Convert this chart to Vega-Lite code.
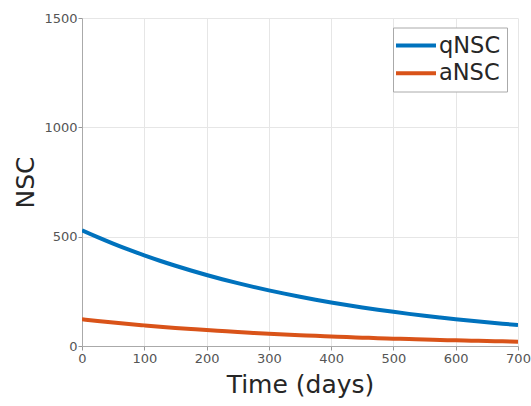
{
  "$schema": "https://vega.github.io/schema/vega-lite/v6.json",
  "autosize": "none",
  "width": 436,
  "height": 328,
  "padding": {"left": 82, "top": 18, "right": 13, "bottom": 60},
  "background": "white",
  "config": {
    "font": "DejaVu Sans",
    "view": {"stroke": null}
  },
  "data": {
    "values": [
      {"t": 0, "v": 529, "s": "qNSC"}, {"t": 25, "v": 497.7, "s": "qNSC"}, {"t": 50, "v": 468.2, "s": "qNSC"}, {"t": 75, "v": 440.5, "s": "qNSC"},
      {"t": 100, "v": 414.5, "s": "qNSC"}, {"t": 125, "v": 389.9, "s": "qNSC"}, {"t": 150, "v": 366.9, "s": "qNSC"}, {"t": 175, "v": 345.2, "s": "qNSC"},
      {"t": 200, "v": 324.8, "s": "qNSC"}, {"t": 225, "v": 305.5, "s": "qNSC"}, {"t": 250, "v": 287.4, "s": "qNSC"}, {"t": 275, "v": 270.4, "s": "qNSC"},
      {"t": 300, "v": 254.4, "s": "qNSC"}, {"t": 325, "v": 239.4, "s": "qNSC"}, {"t": 350, "v": 225.2, "s": "qNSC"}, {"t": 375, "v": 211.9, "s": "qNSC"},
      {"t": 400, "v": 199.3, "s": "qNSC"}, {"t": 425, "v": 187.5, "s": "qNSC"}, {"t": 450, "v": 176.4, "s": "qNSC"}, {"t": 475, "v": 166.0, "s": "qNSC"},
      {"t": 500, "v": 156.2, "s": "qNSC"}, {"t": 525, "v": 146.9, "s": "qNSC"}, {"t": 550, "v": 138.2, "s": "qNSC"}, {"t": 575, "v": 130.1, "s": "qNSC"},
      {"t": 600, "v": 122.4, "s": "qNSC"}, {"t": 625, "v": 115.1, "s": "qNSC"}, {"t": 650, "v": 108.3, "s": "qNSC"}, {"t": 675, "v": 101.9, "s": "qNSC"},
      {"t": 700, "v": 95.9, "s": "qNSC"},
      {"t": 0, "v": 122, "s": "aNSC"}, {"t": 25, "v": 114.4, "s": "aNSC"}, {"t": 50, "v": 107.2, "s": "aNSC"}, {"t": 75, "v": 100.5, "s": "aNSC"},
      {"t": 100, "v": 94.3, "s": "aNSC"}, {"t": 125, "v": 88.4, "s": "aNSC"}, {"t": 150, "v": 82.8, "s": "aNSC"}, {"t": 175, "v": 77.7, "s": "aNSC"},
      {"t": 200, "v": 72.8, "s": "aNSC"}, {"t": 225, "v": 68.3, "s": "aNSC"}, {"t": 250, "v": 64.0, "s": "aNSC"}, {"t": 275, "v": 60.0, "s": "aNSC"},
      {"t": 300, "v": 56.3, "s": "aNSC"}, {"t": 325, "v": 52.7, "s": "aNSC"}, {"t": 350, "v": 49.5, "s": "aNSC"}, {"t": 375, "v": 46.4, "s": "aNSC"},
      {"t": 400, "v": 43.5, "s": "aNSC"}, {"t": 425, "v": 40.7, "s": "aNSC"}, {"t": 450, "v": 38.2, "s": "aNSC"}, {"t": 475, "v": 35.8, "s": "aNSC"},
      {"t": 500, "v": 33.6, "s": "aNSC"}, {"t": 525, "v": 31.5, "s": "aNSC"}, {"t": 550, "v": 29.5, "s": "aNSC"}, {"t": 575, "v": 27.7, "s": "aNSC"},
      {"t": 600, "v": 25.9, "s": "aNSC"}, {"t": 625, "v": 24.3, "s": "aNSC"}, {"t": 650, "v": 22.8, "s": "aNSC"}, {"t": 675, "v": 21.4, "s": "aNSC"},
      {"t": 700, "v": 20.0, "s": "aNSC"}
    ]
  },
  "mark": {"type": "line", "strokeWidth": 4, "interpolate": "monotone", "clip": true},
  "encoding": {
    "x": {
      "field": "t", "type": "quantitative",
      "scale": {"domain": [0, 700], "nice": false, "zero": false},
      "axis": {
        "title": "Time (days)",
        "values": [0, 100, 200, 300, 400, 500, 600, 700],
        "format": "d",
        "titleFontSize": 25, "titleFontWeight": "normal", "titleColor": "#262626",
        "titleBaseline": "alphabetic", "titleX": 218, "titleY": 46, "titleAnchor": null, "titleAlign": "center",
        "labelFontSize": 13, "labelColor": "#555555", "labelPadding": 2,
        "tickSize": 4, "tickColor": "#999999", "domainColor": "#aaaaaa",
        "gridColor": "#e6e6e6", "grid": true, "labelFlush": false
      }
    },
    "y": {
      "field": "v", "type": "quantitative",
      "scale": {"domain": [0, 1500], "nice": false},
      "axis": {
        "title": "NSC",
        "values": [0, 500, 1000, 1500],
        "format": "d",
        "titleFontSize": 25, "titleFontWeight": "normal", "titleColor": "#262626",
        "titleBaseline": "alphabetic", "titleX": -49, "titleY": 164, "titleAngle": -90, "titleAlign": "center", "titleAnchor": null,
        "labelFontSize": 13, "labelColor": "#555555", "labelPadding": 1,
        "tickSize": 4, "tickColor": "#999999", "domainColor": "#aaaaaa",
        "gridColor": "#e6e6e6", "grid": true, "labelFlush": false
      }
    },
    "color": {
      "field": "s", "type": "nominal",
      "scale": {"domain": ["qNSC", "aNSC"], "range": ["#0072BD", "#D95319"]},
      "legend": {
        "title": null,
        "orient": "none",
        "legendX": 311,
        "legendY": 9.5,
        "padding": 6,
        "fillColor": "white",
        "strokeColor": "#aaaaaa",
        "cornerRadius": 0,
        "symbolType": "M-2,0H2",
        "symbolSize": 400,
        "symbolStrokeWidth": 4,
        "symbolOffset": 5,
        "labelOffset": 11,
        "labelFontSize": 22.5,
        "labelColor": "#262626",
        "rowPadding": 3.8
      }
    }
  }
}
